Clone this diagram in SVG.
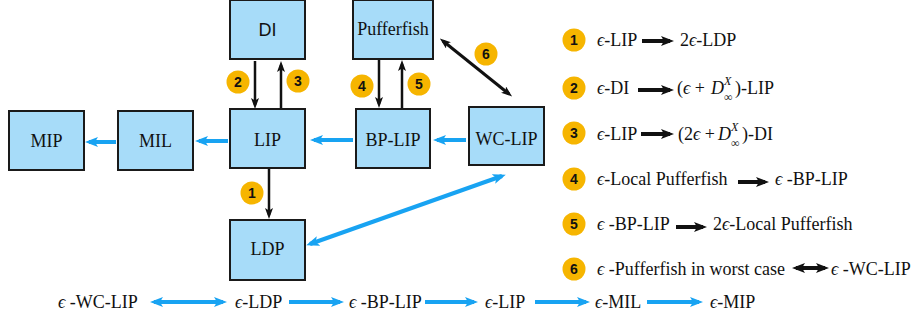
<svg xmlns="http://www.w3.org/2000/svg" width="915" height="320" viewBox="0 0 915 320">
<style>
.box{fill:#a7dcf9;stroke:#1a1a1a;stroke-width:2}
.lbl{font-family:"Liberation Serif","DejaVu Serif",serif;font-size:18px;fill:#111;text-anchor:middle}
.sans{font-family:"Liberation Sans","DejaVu Sans",sans-serif}
.badge{fill:#f6b500}
.bn{font-family:"Liberation Sans","DejaVu Sans",sans-serif;font-weight:bold;font-size:14px;fill:#111;text-anchor:middle}
.t{font-family:"Liberation Serif","DejaVu Serif",serif;font-size:18px;fill:#111}
.it{font-style:italic}
.sm{font-size:12px}
.bk{stroke:#111;stroke-width:2.5;fill:none;marker-end:url(#mbk)}
.bk2{stroke:#111;stroke-width:3;fill:none;marker-end:url(#mbk);marker-start:url(#mbk)}
.bl{stroke:#18a3f2;stroke-width:4;fill:none;marker-end:url(#mbl)}
.bl2{stroke:#18a3f2;stroke-width:4;fill:none;marker-end:url(#mbl);marker-start:url(#mbl)}
.lk{stroke:#111;stroke-width:4;fill:none;marker-end:url(#mlk)}
.lk2{stroke:#111;stroke-width:4;fill:none;marker-end:url(#mlk);marker-start:url(#mlk)}
</style>
<defs>
<marker id="mbk" viewBox="0 0 11 8" refX="7" refY="4" markerWidth="11" markerHeight="8" markerUnits="userSpaceOnUse" orient="auto-start-reverse"><path d="M0,0 L11,4 L0,8 L2.5,4 z" fill="#111"/></marker>
<marker id="mbl" viewBox="0 0 13 10" refX="9" refY="5" markerWidth="13" markerHeight="10" markerUnits="userSpaceOnUse" orient="auto-start-reverse"><path d="M0,0 L13,5 L0,10 L3,5 z" fill="#18a3f2"/></marker>
<marker id="mlk" viewBox="0 0 13 10" refX="9" refY="5" markerWidth="13" markerHeight="10" markerUnits="userSpaceOnUse" orient="auto-start-reverse"><path d="M0,0 L13,5 L0,10 L3,5 z" fill="#111"/></marker>
</defs>

<g id="connectors">
<line class="bk" x1="255" y1="61" x2="255" y2="105"/>
<line class="bk" x1="281" y1="108" x2="281" y2="65"/>
<line class="bk" x1="379" y1="60" x2="379" y2="104"/>
<line class="bk" x1="402" y1="108" x2="402" y2="64"/>
<line class="bk2" x1="443" y1="41" x2="509" y2="94"/>
<line class="bk" x1="269" y1="169" x2="269" y2="215"/>
<line class="bl2" x1="310" y1="244" x2="502" y2="176"/>
<line class="bl" x1="466" y1="140" x2="437" y2="140"/>
<line class="bl" x1="353" y1="140" x2="314" y2="140"/>
<line class="bl" x1="228" y1="141" x2="199" y2="141"/>
<line class="bl" x1="116" y1="142" x2="89" y2="142"/>
</g>

<g id="DI"><rect class="box" x="230" y="0" width="75" height="59"/><text class="lbl sans" x="267.5" y="36">DI</text></g>
<g id="Pufferfish"><rect class="box" x="353" y="0" width="80" height="59"/><text class="lbl" x="393" y="35">Pufferfish</text></g>
<g id="LIP"><rect class="box" x="230" y="109" width="75" height="59"/><text class="lbl" x="267.5" y="146">LIP</text></g>
<g id="MIL"><rect class="box" x="118" y="111" width="75" height="59"/><text class="lbl" x="155.5" y="147">MIL</text></g>
<g id="MIP"><rect class="box" x="9" y="111" width="75" height="59"/><text class="lbl" x="46.5" y="147">MIP</text></g>
<g id="BP-LIP"><rect class="box" x="356" y="109" width="74" height="59"/><text class="lbl" x="393" y="146">BP-LIP</text></g>
<g id="WC-LIP"><rect class="box" x="469" y="107" width="75" height="58"/><text class="lbl" x="506.5" y="145">WC-LIP</text></g>
<g id="LDP"><rect class="box" x="230" y="220" width="75" height="60"/><text class="lbl" x="267.5" y="255">LDP</text></g>

<g id="badges">
<circle class="badge" cx="252" cy="193" r="11.5"/><text class="bn" x="252" y="198">1</text>
<circle class="badge" cx="238" cy="82" r="11.5"/><text class="bn" x="238" y="87">2</text>
<circle class="badge" cx="298" cy="81" r="11.5"/><text class="bn" x="298" y="86">3</text>
<circle class="badge" cx="362" cy="86" r="11.5"/><text class="bn" x="362" y="91">4</text>
<circle class="badge" cx="419" cy="84" r="11.5"/><text class="bn" x="419" y="89">5</text>
<circle class="badge" cx="486" cy="54" r="11.5"/><text class="bn" x="486" y="59">6</text>
</g>

<g id="legend">
<circle class="badge" cx="574" cy="40" r="11.5"/><text class="bn" x="574" y="45">1</text>
<text class="t" x="597" y="46"><tspan class="it">ϵ</tspan>-LIP</text>
<line class="lk" x1="642" y1="41" x2="670" y2="41"/>
<text class="t" x="680" y="46">2<tspan class="it">ϵ</tspan>-LDP</text>

<circle class="badge" cx="574" cy="88" r="11.5"/><text class="bn" x="574" y="93">2</text>
<text class="t" x="597" y="94"><tspan class="it">ϵ</tspan>-DI</text>
<line class="lk" x1="638" y1="90" x2="670" y2="90"/>
<text class="t" x="677" y="94">(<tspan class="it">ϵ</tspan> +<tspan class="it" x="711">D</tspan><tspan class="it sm" x="724" y="85">X</tspan><tspan class="sm" x="724" y="101">∞</tspan><tspan x="735" y="94">)-LIP</tspan></text>

<circle class="badge" cx="574" cy="133" r="11.5"/><text class="bn" x="574" y="138">3</text>
<text class="t" x="597" y="140"><tspan class="it">ϵ</tspan>-LIP</text>
<line class="lk" x1="641" y1="134" x2="670" y2="134"/>
<text class="t" x="678" y="140">(2<tspan class="it">ϵ</tspan> +<tspan class="it" x="718">D</tspan><tspan class="it sm" x="731" y="131">X</tspan><tspan class="sm" x="731" y="147">∞</tspan><tspan x="742" y="140">)-DI</tspan></text>

<circle class="badge" cx="574" cy="179" r="11.5"/><text class="bn" x="574" y="184">4</text>
<text class="t" x="597" y="185"><tspan class="it">ϵ</tspan>-Local Pufferfish</text>
<line class="lk" x1="738" y1="182" x2="765" y2="182"/>
<text class="t" x="775" y="185"><tspan class="it">ϵ</tspan> -BP-LIP</text>

<circle class="badge" cx="574" cy="224" r="11.5"/><text class="bn" x="574" y="229">5</text>
<text class="t" x="597" y="230"><tspan class="it">ϵ</tspan> -BP-LIP</text>
<line class="lk" x1="676" y1="227" x2="703" y2="227"/>
<text class="t" x="713" y="230">2<tspan class="it">ϵ</tspan>-Local Pufferfish</text>

<circle class="badge" cx="574" cy="269" r="11.5"/><text class="bn" x="574" y="274">6</text>
<text class="t" x="597" y="275"><tspan class="it">ϵ</tspan> -Pufferfish in worst case</text>
<line class="lk2" x1="796" y1="268" x2="825" y2="268"/>
<text class="t" x="831" y="275"><tspan class="it">ϵ</tspan> -WC-LIP</text>
</g>

<g id="chain">
<text class="t" x="58" y="308"><tspan class="it">ϵ</tspan> -WC-LIP</text>
<line class="bl2" x1="154" y1="302" x2="223" y2="302"/>
<text class="t" x="235" y="308"><tspan class="it">ϵ</tspan>-LDP</text>
<line class="bl" x1="289" y1="302" x2="340" y2="302"/>
<text class="t" x="349" y="308"><tspan class="it">ϵ</tspan> -BP-LIP</text>
<line class="bl" x1="425" y1="302" x2="474" y2="302"/>
<text class="t" x="485" y="308"><tspan class="it">ϵ</tspan>-LIP</text>
<line class="bl" x1="535" y1="302" x2="586" y2="302"/>
<text class="t" x="595" y="308"><tspan class="it">ϵ</tspan>-MIL</text>
<line class="bl" x1="647" y1="302" x2="699" y2="302"/>
<text class="t" x="710" y="308"><tspan class="it">ϵ</tspan>-MIP</text>
</g>
</svg>
